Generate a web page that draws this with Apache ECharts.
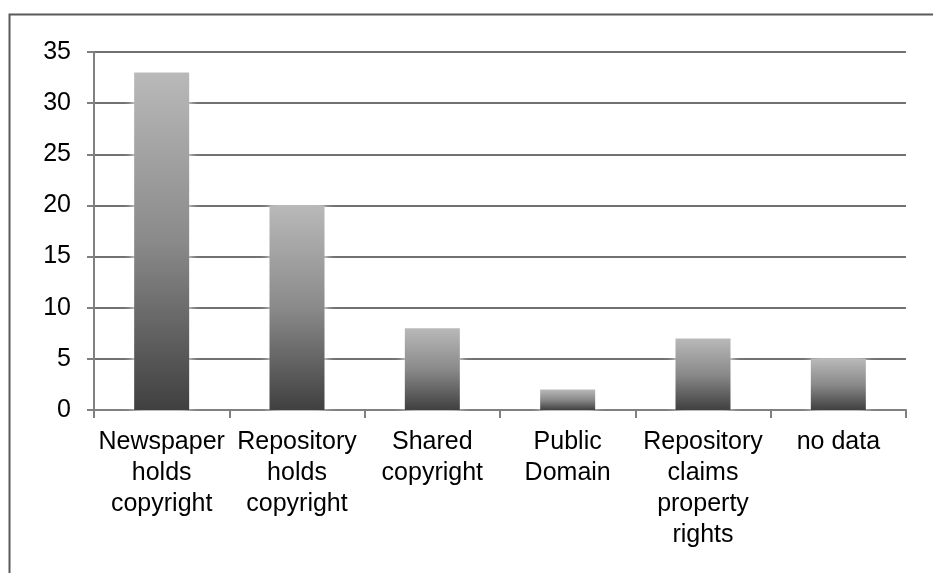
<!DOCTYPE html>
<html>
<head>
<meta charset="utf-8">
<script src="https://cdn.jsdelivr.net/npm/echarts@6/dist/echarts.min.js"></script>
<style>
  html, body { margin: 0; padding: 0; background: #fff; }
  #chart { width: 933px; height: 573px; }
</style>
</head>
<body>
<div id="chart"></div>
<script>
// Copyright status categories and counts
const categories = [
  'Newspaper\nholds\ncopyright',
  'Repository\nholds\ncopyright',
  'Shared\ncopyright',
  'Public\nDomain',
  'Repository\nclaims\nproperty\nrights',
  'no data'
];
const counts = [33, 20, 8, 2, 7, 5];
const yMin = 0;
const yMax = 35;
const yStep = 5;

const chart = echarts.init(document.getElementById('chart'), null, { renderer: 'canvas' });

const barFill = new echarts.graphic.LinearGradient(0, 0, 0, 1, [
  { offset: 0, color: '#b9b9b9' },
  { offset: 0.5, color: '#8a8a8a' },
  { offset: 1, color: '#404040' }
]);

chart.setOption({
  animation: false,
  backgroundColor: '#ffffff',
  textStyle: { fontFamily: 'Liberation Sans, Arial, sans-serif' },
  graphic: [{
    type: 'rect',
    left: 7,
    top: 12,
    shape: { width: 1000, height: 1000 },
    style: { fill: 'none', stroke: '#5a5a5a', lineWidth: 2 },
    silent: true
  }],
  grid: { left: 94, right: 27, top: 52, bottom: 163, containLabel: false },
  xAxis: {
    type: 'category',
    data: categories,
    boundaryGap: true,
    axisLine: { show: true, lineStyle: { color: '#808080', width: 2 } },
    axisTick: { show: true, length: 8, inside: false, lineStyle: { color: '#808080', width: 2 } },
    axisLabel: {
      interval: 0,
      margin: 17,
      color: '#000',
      fontSize: 25,
      lineHeight: 31,
      fontFamily: 'Liberation Sans, Arial, sans-serif'
    },
    splitLine: { show: false }
  },
  yAxis: {
    type: 'value',
    min: yMin,
    max: yMax,
    interval: yStep,
    axisLine: { show: true, lineStyle: { color: '#808080', width: 2 } },
    axisTick: { show: true, length: 7, lineStyle: { color: '#808080', width: 2 } },
    axisLabel: {
      margin: 23,
      color: '#000',
      fontSize: 25,
      fontFamily: 'Liberation Sans, Arial, sans-serif'
    },
    splitLine: { show: true, lineStyle: { color: '#717171', width: 2 } }
  },
  series: [{
    type: 'bar',
    data: counts,
    barWidth: 55,
    itemStyle: {
      color: barFill,
      shadowColor: 'rgba(255,255,255,1)',
      shadowBlur: 10
    },
    emphasis: { disabled: true }
  }]
});
</script>
</body>
</html>
